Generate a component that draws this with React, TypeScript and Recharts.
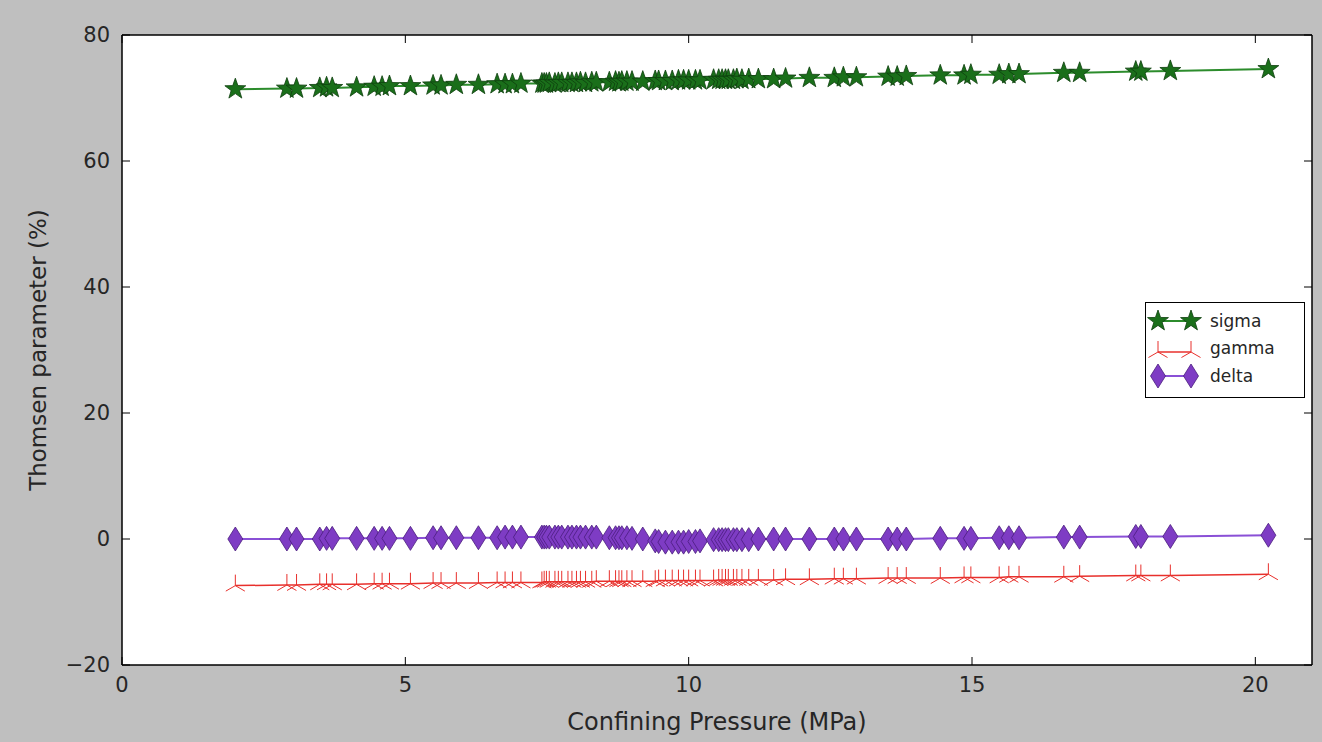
import React from "react";
import { ScatterChart, Scatter, XAxis, YAxis, CartesianGrid, Legend } from "recharts";

const pressure = [2.0, 2.91, 3.08, 3.49, 3.61, 3.71, 4.14, 4.45, 4.59, 4.72, 5.09, 5.49, 5.63, 5.9, 6.29, 6.62, 6.76, 6.89, 7.04, 7.41, 7.45, 7.49, 7.54, 7.64, 7.7, 7.76, 7.87, 7.94, 8.02, 8.09, 8.18, 8.29, 8.37, 8.6, 8.71, 8.77, 8.82, 8.91, 9.0, 9.19, 9.41, 9.47, 9.59, 9.71, 9.82, 9.91, 10.0, 10.12, 10.2, 10.44, 10.53, 10.59, 10.65, 10.7, 10.79, 10.85, 10.94, 11.06, 11.23, 11.5, 11.71, 12.13, 12.57, 12.73, 12.96, 13.52, 13.68, 13.84, 14.44, 14.86, 14.98, 15.48, 15.65, 15.83, 16.62, 16.9, 17.89, 17.98, 18.5, 20.23];

const sigma = [71.4, 71.5, 71.5, 71.6, 71.7, 71.6, 71.7, 71.8, 71.8, 71.9, 71.9, 72.0, 72.0, 72.1, 72.1, 72.2, 72.2, 72.2, 72.3, 72.3, 72.3, 72.3, 72.4, 72.3, 72.4, 72.4, 72.4, 72.4, 72.4, 72.5, 72.4, 72.5, 72.5, 72.5, 72.6, 72.5, 72.6, 72.6, 72.6, 72.6, 72.7, 72.7, 72.7, 72.7, 72.8, 72.8, 72.8, 72.8, 72.8, 72.9, 72.9, 72.9, 72.9, 72.9, 72.9, 73.0, 72.9, 73.0, 73.0, 73.0, 73.1, 73.2, 73.2, 73.3, 73.3, 73.4, 73.4, 73.5, 73.6, 73.6, 73.7, 73.7, 73.8, 73.8, 74.0, 74.0, 74.2, 74.2, 74.3, 74.6];

const gamma = [-7.4, -7.3, -7.3, -7.2, -7.2, -7.2, -7.2, -7.1, -7.1, -7.1, -7.1, -7.0, -7.0, -7.0, -7.0, -6.9, -6.9, -6.9, -6.9, -6.9, -6.8, -6.8, -6.8, -6.8, -6.8, -6.8, -6.8, -6.8, -6.8, -6.8, -6.8, -6.8, -6.7, -6.7, -6.7, -6.7, -6.7, -6.7, -6.7, -6.7, -6.7, -6.6, -6.6, -6.6, -6.6, -6.6, -6.6, -6.6, -6.6, -6.6, -6.5, -6.5, -6.5, -6.5, -6.5, -6.5, -6.5, -6.5, -6.5, -6.5, -6.4, -6.4, -6.3, -6.3, -6.3, -6.2, -6.2, -6.2, -6.2, -6.1, -6.1, -6.1, -6.0, -6.0, -6.0, -5.9, -5.8, -5.8, -5.8, -5.6];

const delta = [0.0, 0.0, 0.0, 0.0, 0.1, 0.1, 0.1, 0.1, 0.1, 0.1, 0.1, 0.2, 0.2, 0.2, 0.2, 0.2, 0.3, 0.3, 0.3, 0.3, 0.3, 0.3, 0.3, 0.3, 0.3, 0.3, 0.3, 0.3, 0.3, 0.3, 0.3, 0.3, 0.3, 0.2, 0.2, 0.2, 0.2, 0.2, 0.1, 0.0, -0.3, -0.4, -0.5, -0.5, -0.5, -0.5, -0.4, -0.4, -0.3, -0.1, -0.1, -0.1, -0.1, -0.1, -0.1, -0.1, -0.1, -0.1, 0.0, 0.0, 0.0, 0.0, 0.0, 0.0, 0.0, 0.0, 0.0, 0.0, 0.1, 0.1, 0.1, 0.2, 0.2, 0.2, 0.3, 0.3, 0.4, 0.4, 0.4, 0.6];

const xTicks = [0, 5, 10, 15, 20];
const yTicks = [-20, 0, 20, 40, 60, 80];
const seriesNames = ["sigma", "gamma", "delta"];

const sigmaData = pressure.map((p, i) => ({ x: p, y: sigma[i] }));
const gammaData = pressure.map((p, i) => ({ x: p, y: gamma[i] }));
const deltaData = pressure.map((p, i) => ({ x: p, y: delta[i] }));

const FONT = "'DejaVu Sans', sans-serif";
const TEXT = "#262626";

const SIGMA_FILL = "#1a6f1a";
const SIGMA_EDGE = "#0e3f0e";
const SIGMA_LINE = "#2c8c2c";
const GAMMA_COLOR = "#e8302c";
const DELTA_FILL = "#7e3cc4";
const DELTA_EDGE = "#4a1d7e";
const DELTA_LINE = "#8a50d6";

function starPath(cx: number, cy: number, R: number) {
  const r = R * 0.4;
  const pts: string[] = [];
  for (let k = 0; k < 10; k++) {
    const a = -Math.PI / 2 + (k * Math.PI) / 5;
    const rad = k % 2 === 0 ? R : r;
    pts.push(`${cx + rad * Math.cos(a)},${cy + rad * Math.sin(a)}`);
  }
  return "M" + pts.join("L") + "Z";
}

const StarShape = (props: any) => {
  const { cx, cy } = props;
  if (cx == null || cy == null) return null;
  return <path d={starPath(cx, cy, 11)} fill={SIGMA_FILL} stroke={SIGMA_EDGE} strokeWidth={0.8} />;
};

const TriShape = (props: any) => {
  const { cx, cy } = props;
  if (cx == null || cy == null) return null;
  const r = 11;
  return (
    <g stroke={GAMMA_COLOR} strokeWidth={1} fill="none">
      <line x1={cx} y1={cy} x2={cx} y2={cy - r} />
      <line x1={cx} y1={cy} x2={cx - r * 0.866} y2={cy + r * 0.5} />
      <line x1={cx} y1={cy} x2={cx + r * 0.866} y2={cy + r * 0.5} />
    </g>
  );
};

const DiamondShape = (props: any) => {
  const { cx, cy } = props;
  if (cx == null || cy == null) return null;
  const w = 7.5;
  const h = 12;
  return (
    <path
      d={`M${cx},${cy - h}L${cx + w},${cy}L${cx},${cy + h}L${cx - w},${cy}Z`}
      fill={DELTA_FILL}
      stroke={DELTA_EDGE}
      strokeWidth={0.8}
    />
  );
};

const NoShape = () => null;

const minusFmt = (v: number) => String(v).replace("-", "\u2212");

const LegendBox = () => {
  const rowY = [18, 45, 73];
  const m1 = 12;
  const m2 = 45;
  return (
    <div style={{ width: 158, height: 94, border: "1px solid #000", background: "#fff" }}>
      <svg width={158} height={94} style={{ display: "block" }}>
        <line x1={m1} y1={rowY[0]} x2={m2} y2={rowY[0]} stroke={SIGMA_LINE} strokeWidth={2} />
        <StarShape cx={m1} cy={rowY[0]} />
        <StarShape cx={m2} cy={rowY[0]} />
        <text x={64} y={rowY[0] + 6} fontSize={17} fill={TEXT} fontFamily={FONT}>{seriesNames[0]}</text>
        <line x1={m1} y1={rowY[1] + 4} x2={m2} y2={rowY[1] + 4} stroke={GAMMA_COLOR} strokeWidth={1.5} />
        <TriShape cx={m1} cy={rowY[1] + 4} />
        <TriShape cx={m2} cy={rowY[1] + 4} />
        <text x={64} y={rowY[1] + 6} fontSize={17} fill={TEXT} fontFamily={FONT}>{seriesNames[1]}</text>
        <line x1={m1} y1={rowY[2]} x2={m2} y2={rowY[2]} stroke={DELTA_LINE} strokeWidth={2} />
        <DiamondShape cx={m1} cy={rowY[2]} />
        <DiamondShape cx={m2} cy={rowY[2]} />
        <text x={64} y={rowY[2] + 6} fontSize={17} fill={TEXT} fontFamily={FONT}>{seriesNames[2]}</text>
      </svg>
    </div>
  );
};

const YLabel = (props: any) => {
  const vb = props.viewBox || {};
  const x = (vb.x ?? 0) + 38;
  const y = (vb.y ?? 0) + (vb.height ?? 0) / 2;
  return (
    <text x={x} y={y} transform={`rotate(-90, ${x}, ${y})`} textAnchor="middle" dominantBaseline="central" fontSize={23} fill={TEXT} fontFamily={FONT}>
      Thomsen parameter (%)
    </text>
  );
};

const XLabel = (props: any) => {
  const vb = props.viewBox || {};
  const x = (vb.x ?? 0) + (vb.width ?? 0) / 2;
  const y = (vb.y ?? 0) + 57;
  return (
    <text x={x} y={y} textAnchor="middle" dominantBaseline="central" fontSize={24} fill={TEXT} fontFamily={FONT}>
      Confining Pressure (MPa)
    </text>
  );
};

export default function App() {
  const tickStyle = { fontSize: 21, fill: TEXT, fontFamily: FONT };
  return (
    <div style={{ position: "absolute", left: 0, top: 0, width: 1322, height: 742, background: "#bfbfbf", fontFamily: FONT }}>
      <ScatterChart width={1322} height={742} margin={{ top: 34, right: 9, bottom: 0, left: 0 }}>
        <CartesianGrid xAxisId="main" yAxisId="main" fill="#ffffff" horizontal={false} vertical={false} />
        <XAxis
          xAxisId="main"
          type="number"
          dataKey="x"
          domain={[0, 21]}
          ticks={xTicks}
          allowDataOverflow
          height={77}
          axisLine={{ stroke: "#000", strokeWidth: 1.5 }}
          tickLine={{ stroke: "#000" }}
          tickSize={-8}
          tickMargin={20}
          tick={tickStyle}
          label={<XLabel />}
        />
        <XAxis
          xAxisId="top"
          orientation="top"
          type="number"
          dataKey="x"
          domain={[0, 21]}
          ticks={xTicks}
          allowDataOverflow
          height={1}
          axisLine={{ stroke: "#000", strokeWidth: 1.5 }}
          tickLine={{ stroke: "#000" }}
          tickSize={-8}
          tick={{ fontSize: 1, fill: "transparent" }}
          tickFormatter={() => " "}
        />
        <YAxis
          yAxisId="main"
          type="number"
          dataKey="y"
          domain={[-20, 80]}
          ticks={yTicks}
          allowDataOverflow
          width={122}
          axisLine={{ stroke: "#000", strokeWidth: 1.5 }}
          tickLine={{ stroke: "#000" }}
          tickSize={-8}
          tickMargin={20}
          tick={tickStyle}
          tickFormatter={minusFmt}
          label={<YLabel />}
        />
        <YAxis
          yAxisId="right"
          orientation="right"
          type="number"
          dataKey="y"
          domain={[-20, 80]}
          ticks={yTicks}
          allowDataOverflow
          width={1}
          axisLine={{ stroke: "#000", strokeWidth: 1.5 }}
          tickLine={{ stroke: "#000" }}
          tickSize={-8}
          tick={{ fontSize: 1, fill: "transparent" }}
          tickFormatter={() => " "}
        />
        <Scatter
          name="frame"
          data={sigmaData}
          xAxisId="top"
          yAxisId="right"
          shape={<NoShape />}
          legendType="none"
          isAnimationActive={false}
        />
        <Scatter
          name={seriesNames[0]}
          data={sigmaData}
          xAxisId="main"
          yAxisId="main"
          line={{ stroke: SIGMA_LINE, strokeWidth: 2 }}
          shape={<StarShape />}
          isAnimationActive={false}
        />
        <Scatter
          name={seriesNames[1]}
          data={gammaData}
          xAxisId="main"
          yAxisId="main"
          line={{ stroke: GAMMA_COLOR, strokeWidth: 1.5 }}
          shape={<TriShape />}
          isAnimationActive={false}
        />
        <Scatter
          name={seriesNames[2]}
          data={deltaData}
          xAxisId="main"
          yAxisId="main"
          line={{ stroke: DELTA_LINE, strokeWidth: 2 }}
          shape={<DiamondShape />}
          isAnimationActive={false}
        />
        <Legend
          layout="horizontal"
          verticalAlign="middle"
          align="center"
          content={<LegendBox />}
          wrapperStyle={{ position: "absolute", left: 1145, top: 302, width: 160, height: 96 }}
        />
      </ScatterChart>
    </div>
  );
}
